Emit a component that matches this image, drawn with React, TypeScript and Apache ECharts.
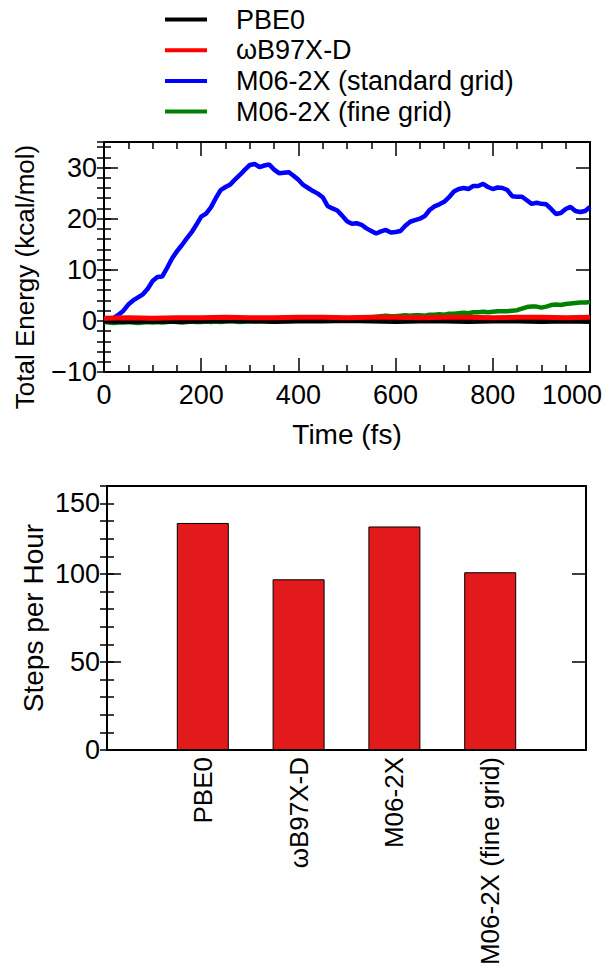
import React, { useEffect, useRef } from 'react';
import * as echarts from 'echarts';

const FONT = '"Liberation Sans", Arial, Helvetica, sans-serif';

// ---- Top panel data (Total Energy vs Time) ----
const TIMES = [
  0, 10, 20, 30, 40, 50, 60, 70, 80, 90,
  100, 110, 120, 130, 140, 150, 160, 170, 180, 190,
  200, 210, 220, 230, 240, 250, 260, 270, 280, 290,
  300, 310, 320, 330, 340, 350, 360, 370, 380, 390,
  400, 410, 420, 430, 440, 450, 460, 470, 480, 490,
  500, 510, 520, 530, 540, 550, 560, 570, 580, 590,
  600, 610, 620, 630, 640, 650, 660, 670, 680, 690,
  700, 710, 720, 730, 740, 750, 760, 770, 780, 790,
  800, 810, 820, 830, 840, 850, 860, 870, 880, 890,
  900, 910, 920, 930, 940, 950, 960, 970, 980, 990,
  1000,
];

const M062X_STANDARD = [
  0.0, 0.3, 0.6, 1.2, 2.0, 3.2, 4.0, 4.6, 5.2, 6.3,
  7.8, 8.6, 8.7, 10.4, 12.2, 13.6, 14.8, 16.1, 17.3, 18.8,
  20.4, 21.0, 22.2, 24.0, 25.6, 26.2, 26.7, 27.7, 28.6, 29.6,
  30.5, 30.7, 30.1, 30.4, 30.6, 29.6, 28.9, 29.0, 29.1, 28.4,
  27.6, 26.6, 26.0, 25.4, 24.9, 24.2, 22.5, 22.0, 21.6, 20.6,
  19.5, 19.0, 19.1, 18.8, 18.1, 17.6, 17.1, 17.5, 17.8, 17.3,
  17.4, 17.6, 18.6, 19.4, 19.7, 20.0, 20.5, 21.7, 22.4, 22.8,
  23.3, 24.2, 25.3, 25.8, 26.0, 25.8, 26.4, 26.4, 26.8, 26.2,
  25.8, 26.1, 26.0, 25.6, 24.4, 24.3, 24.3, 23.6, 22.9, 23.1,
  22.9, 22.8, 21.9, 20.9, 21.1, 21.9, 22.3, 21.5, 21.3, 21.5,
  22.3,
];

const M062X_FINE = [
  -0.2, -0.3, -0.4, -0.3, -0.3, -0.2, -0.3, -0.4, -0.3, -0.2,
  -0.3, -0.2, -0.3, -0.2, -0.1, -0.2, -0.3, -0.2, -0.1, -0.2,
  -0.2, -0.1, -0.2, -0.1, -0.2, -0.1, 0.0, -0.1, -0.2, -0.1,
  0.0, -0.1, 0.0, 0.1, 0.0, -0.1, 0.0, 0.1, 0.0, 0.1,
  0.2, 0.1, 0.2, 0.3, 0.2, 0.1, 0.2, 0.3, 0.3, 0.4,
  0.4, 0.5, 0.5, 0.6, 0.7, 0.7, 0.8, 0.9, 1.0, 0.9,
  0.9, 1.0, 1.1, 1.0, 1.1, 1.1, 1.0, 1.2, 1.2, 1.3,
  1.2, 1.4, 1.4, 1.5, 1.6, 1.5, 1.7, 1.7, 1.8, 1.7,
  1.8, 1.9, 1.9, 1.9, 2.0, 2.1, 2.4, 2.7, 2.8, 2.8,
  2.6, 2.8, 3.1, 3.2, 3.1, 3.3, 3.4, 3.5, 3.6, 3.6,
  3.7,
];

const COARSE_TIMES = [
  0, 50, 100, 150, 200, 250, 300, 350, 400, 450,
  500, 550, 600, 650, 700, 750, 800, 850, 900, 950, 1000,
];
const PBE0 = [
  0.0, -0.1, 0.0, -0.1, 0.0, 0.1, 0.0, -0.1, 0.0, 0.0,
  0.1, 0.0, -0.1, 0.0, 0.0, -0.1, 0.0, 0.0, -0.1, 0.0, -0.1,
];
const WB97XD = [
  0.5, 0.6, 0.5, 0.6, 0.6, 0.7, 0.6, 0.6, 0.7, 0.7,
  0.6, 0.7, 0.7, 0.6, 0.7, 0.7, 0.6, 0.7, 0.7, 0.6, 0.7,
];

const LEGEND_NAMES = ['PBE0', 'ωB97X-D', 'M06-2X (standard grid)', 'M06-2X (fine grid)'];

// ---- Bottom panel data (Steps per Hour) ----
const BAR_CATEGORIES = ['PBE0', 'ωB97X-D', 'M06-2X', 'M06-2X (fine grid)'];
const STEPS_PER_HOUR = [129, 97, 127, 101];

const BLACK = '#000000';

function tick(len: number) {
  return { show: true, inside: true, length: len, lineStyle: { color: BLACK, width: 1.5 } };
}
const frameLine = { show: true, onZero: false, lineStyle: { color: BLACK, width: 2 } };
const noLine = { show: false };
const noLabel = { show: false };
const noSplit = { show: false };

const tickFont = { fontSize: 27, fontFamily: FONT, color: BLACK };

function fmtTop(v: number) {
  if (v === 1000) return '{e|1000}';
  return String(v);
}
function fmtEnergy(v: number) {
  return v < 0 ? '\u2212' + Math.abs(v) : String(v);
}
function fmtSteps(v: number) {
  if (v === 150) return '{s|150}';
  return String(v);
}

export default function App() {
  const ref = useRef<HTMLDivElement>(null);
  useEffect(() => {
    const chart = echarts.init(ref.current!, null, { renderer: 'svg' });
    const lineSeries = (name: string, color: string, times: number[], vals: number[], w: number) => ({
      name,
      type: 'line',
      xAxisIndex: 0,
      yAxisIndex: 0,
      data: times.map((t, i) => [t, vals[i]]),
      showSymbol: false,
      symbol: 'none',
      color,
      lineStyle: { color, width: w },
      clip: true,
    });

    const option: any = {
      animation: false,
      backgroundColor: '#ffffff',
      textStyle: { fontFamily: FONT },
      legend: {
        data: LEGEND_NAMES,
        orient: 'vertical',
        left: 165,
        top: 6,
        padding: 0,
        itemWidth: 42,
        itemHeight: 4,
        itemGap: 3.7,
        icon: 'rect',
        itemStyle: { borderWidth: 0 },
        textStyle: { fontSize: 27, fontFamily: FONT, color: BLACK, padding: [0, 0, 0, 24] },
        selectedMode: false,
      },
      grid: [
        { left: 104, top: 142, width: 486, height: 230 },
        { left: 107, top: 486, width: 479, height: 264 },
      ],
      xAxis: [
        {
          type: 'value', gridIndex: 0, position: 'bottom', min: 0, max: 1000, interval: 200,
          axisLine: frameLine, axisTick: tick(14),
          minorTick: { show: true, splitNumber: 4, length: 7, lineStyle: { color: BLACK, width: 1.5 } },
          axisLabel: {
            show: true, margin: 9, ...tickFont, formatter: fmtTop,
            rich: { e: { ...tickFont, padding: [0, 36, 0, 0] } },
          },
          splitLine: noSplit, minorSplitLine: noSplit,
        },
        {
          type: 'value', gridIndex: 0, position: 'top', min: 0, max: 1000, interval: 200,
          axisLine: frameLine, axisTick: tick(14),
          minorTick: { show: true, splitNumber: 4, length: 7, lineStyle: { color: BLACK, width: 1.5 } },
          axisLabel: noLabel, splitLine: noSplit,
        },
        {
          type: 'value', gridIndex: 1, position: 'bottom', min: 0, max: 5, interval: 1,
          axisLine: frameLine, axisTick: { show: false },
          axisLabel: {
            show: true, rotate: 90, margin: 7, fontSize: 26, fontFamily: FONT, color: BLACK,
            formatter: (v: number) => BAR_CATEGORIES[v - 1] ?? '',
          },
          splitLine: noSplit,
        },
        {
          type: 'value', gridIndex: 1, position: 'top', min: 0, max: 5, interval: 1,
          axisLine: frameLine, axisTick: { show: false }, axisLabel: noLabel, splitLine: noSplit,
        },
      ],
      yAxis: [
        {
          type: 'value', gridIndex: 0, position: 'left', min: -10, max: 35, interval: 10,
          axisLine: frameLine, axisTick: tick(14),
          axisLabel: { show: true, margin: 7, ...tickFont, formatter: fmtEnergy, showMaxLabel: false },
          splitLine: noSplit,
        },
        {
          type: 'value', gridIndex: 0, position: 'left', min: -10, max: 35, interval: 2,
          axisLine: noLine, axisTick: tick(7), axisLabel: noLabel, splitLine: noSplit,
        },
        {
          type: 'value', gridIndex: 0, position: 'right', min: -10, max: 35, interval: 10,
          axisLine: frameLine, axisTick: tick(14), axisLabel: noLabel, splitLine: noSplit,
        },
        {
          type: 'value', gridIndex: 0, position: 'right', min: -10, max: 35, interval: 2,
          axisLine: noLine, axisTick: tick(7), axisLabel: noLabel, splitLine: noSplit,
        },
        {
          type: 'value', gridIndex: 1, position: 'left', min: 0, max: 150, interval: 50,
          axisLine: frameLine, axisTick: tick(14),
          axisLabel: {
            show: true, margin: 7, ...tickFont, formatter: fmtSteps,
            rich: { s: { ...tickFont, padding: [34, 0, 0, 0] } },
          },
          splitLine: noSplit,
        },
        {
          type: 'value', gridIndex: 1, position: 'left', min: 0, max: 150, interval: 10,
          axisLine: noLine, axisTick: tick(7), axisLabel: noLabel, splitLine: noSplit,
        },
        {
          type: 'value', gridIndex: 1, position: 'right', min: 0, max: 150, interval: 50,
          axisLine: frameLine, axisTick: tick(14), axisLabel: noLabel, splitLine: noSplit,
        },
        {
          type: 'value', gridIndex: 1, position: 'right', min: 0, max: 150, interval: 10,
          axisLine: noLine, axisTick: tick(7), axisLabel: noLabel, splitLine: noSplit,
        },
      ],
      series: [
        lineSeries('M06-2X (fine grid)', '#008000', TIMES, M062X_FINE, 4.5),
        lineSeries('M06-2X (standard grid)', '#0000ff', TIMES, M062X_STANDARD, 4.5),
        lineSeries('PBE0', '#000000', COARSE_TIMES, PBE0, 5),
        lineSeries('ωB97X-D', '#ff0000', COARSE_TIMES, WB97XD, 5),
        {
          type: 'bar',
          xAxisIndex: 2,
          yAxisIndex: 4,
          barWidth: 52,
          data: STEPS_PER_HOUR.map((v, i) => [i + 1, v]),
          itemStyle: { color: '#e31a1c', borderColor: BLACK, borderWidth: 1 },
        },
      ],
      graphic: [
        {
          type: 'text', x: 25, y: 277, rotation: Math.PI / 2,
          style: { text: 'Total Energy (kcal/mol)', fontSize: 26, fontFamily: FONT, fill: BLACK, align: 'center', verticalAlign: 'middle' },
        },
        {
          type: 'text', x: 347, y: 434,
          style: { text: 'Time (fs)', fontSize: 28, fontFamily: FONT, fill: BLACK, align: 'center', verticalAlign: 'middle' },
        },
        {
          type: 'text', x: 33, y: 618, rotation: Math.PI / 2,
          style: { text: 'Steps per Hour', fontSize: 28, fontFamily: FONT, fill: BLACK, align: 'center', verticalAlign: 'middle' },
        },
      ],
    };
    chart.setOption(option);
    return () => chart.dispose();
  }, []);
  return (
    <div
      ref={ref}
      style={{ position: 'absolute', left: 0, top: 0, width: 606, height: 971, background: '#fff' }}
    />
  );
}
